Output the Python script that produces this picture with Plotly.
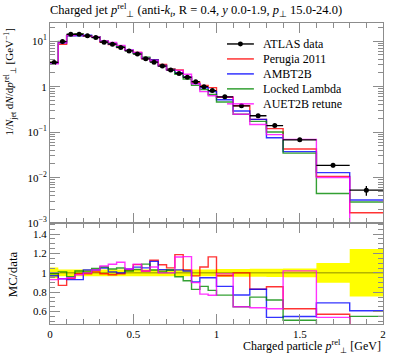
import plotly.graph_objects as go

# ---------------- data ----------------
edges = [0.0, 0.05, 0.1, 0.15, 0.2, 0.25, 0.3, 0.35, 0.4, 0.45, 0.5, 0.55, 0.6, 0.65,
         0.7, 0.75, 0.8, 0.85, 0.9, 0.95, 1.0, 1.1, 1.2, 1.3, 1.4, 1.6, 1.8, 2.0]

atlas = [3.42, 9.8, 14.2, 14.2, 13.1, 12.0, 9.5, 8.6, 7.3, 6.1, 5.2, 4.1, 3.45, 2.84,
         2.32, 1.96, 1.61, 1.29, 1.0, 0.82, 0.60, 0.38, 0.23, 0.14, 0.068, 0.0187, 0.0053]
atlas_err = [0.19, 0.35, 0.5, 0.5, 0.46, 0.42, 0.33, 0.30, 0.26, 0.21, 0.18, 0.14, 0.12, 0.10,
             0.08, 0.07, 0.056, 0.045, 0.035, 0.029, 0.024, 0.015, 0.0095, 0.006, 0.003,
             0.0019, 0.0013]

perugia = [3.42, 8.53, 13.35, 14.06, 12.97, 12.12, 9.41, 8.43, 7.23, 6.28, 5.64, 4.18, 3.90,
           3.08, 2.44, 2.33, 1.66, 1.25, 1.06, 0.955, 0.582, 0.38, 0.191, 0.120, 0.0428,
           0.0107, 0.0017]
ambt2b = [3.32, 9.21, 13.21, 13.21, 13.49, 12.36, 9.98, 8.69, 7.30, 6.34, 5.51, 4.31, 3.86,
          2.93, 2.39, 2.02, 1.64, 1.17, 0.95, 0.779, 0.516, 0.293, 0.191, 0.0756, 0.0374,
          0.0129, 0.00323]
locked = [3.39, 9.90, 13.63, 14.48, 13.23, 12.54, 10.07, 8.94, 7.67, 6.22, 5.38, 4.47, 3.55,
          2.87, 2.39, 1.88, 1.48, 1.07, 0.86, 0.672, 0.462, 0.247, 0.1725, 0.1008, 0.0347,
          0.00449, 0.00292]
auet2b = [3.18, 9.21, 13.49, 13.92, 13.1, 12.36, 10.17, 9.37, 8.10, 6.34, 5.67, 4.18, 3.66,
          2.84, 2.32, 2.28, 1.88, 1.16, 0.78, 0.631, 0.594, 0.247, 0.147, 0.0882, 0.0694,
          0.0101, 0.00001]

series = [("Perugia 2011", perugia, "#ff0000"),
          ("AMBT2B", ambt2b, "#0000ff"),
          ("Locked Lambda", locked, "#008800"),
          ("AUET2B retune", auet2b, "#ff00ff")]

# ---------------- helpers ----------------
centers = [(edges[i] + edges[i + 1]) / 2 for i in range(len(atlas))]
halfw = [(edges[i + 1] - edges[i]) / 2 for i in range(len(atlas))]
step_x = edges[:]


def step_y(vals):
    return list(vals) + [vals[-1]]


FONT = "Liberation Serif"
GRAY = "#8c8c8c"

fig = go.Figure()

# ---------------- top panel ----------------
for name, vals, col in series:
    fig.add_trace(go.Scatter(x=step_x, y=step_y(vals), mode="lines", line_shape="hv",
                             line=dict(color=col, width=1.4), opacity=0.8, name=name,
                             xaxis="x", yaxis="y", showlegend=False))

fig.add_trace(go.Scatter(x=centers, y=atlas, mode="markers",
                         marker=dict(color="black", size=5),
                         error_x=dict(type="data", array=halfw, color="black", thickness=1.3, width=0),
                         error_y=dict(type="data", array=atlas_err, color="black", thickness=1.3, width=0),
                         xaxis="x", yaxis="y", showlegend=False, name="ATLAS data"))

# ---------------- ratio panel ----------------
lo = [1 - e / d for e, d in zip(atlas_err, atlas)]
hi = [1 + e / d for e, d in zip(atlas_err, atlas)]
fig.add_trace(go.Scatter(x=step_x, y=step_y(lo), mode="lines", line_shape="hv",
                         line=dict(width=0, color="#ffff00"), xaxis="x2", yaxis="y2",
                         showlegend=False))
fig.add_trace(go.Scatter(x=step_x, y=step_y(hi), mode="lines", line_shape="hv",
                         line=dict(width=0, color="#ffff00"), fill="tonexty",
                         fillcolor="#ffff00", xaxis="x2", yaxis="y2",
                         showlegend=False))
fig.add_trace(go.Scatter(x=[edges[0], edges[-1]], y=[1, 1], mode="lines",
                         line=dict(color="rgba(0,0,0,0.45)", width=1),
                         xaxis="x2", yaxis="y2", showlegend=False))
for name, vals, col in series:
    r = [v / d for v, d in zip(vals, atlas)]
    fig.add_trace(go.Scatter(x=step_x, y=step_y(r), mode="lines", line_shape="hv",
                             line=dict(color=col, width=1.4), opacity=0.8,
                             xaxis="x2", yaxis="y2", showlegend=False))

# ---------------- axes ----------------
tickfont = dict(family=FONT, size=11, color="black")
common_x = dict(range=[0, 2], showline=True, linecolor=GRAY, linewidth=1, mirror="ticks",
                ticks="inside", tickcolor=GRAY, ticklen=10, tickwidth=1, dtick=0.5, tick0=0,
                showgrid=False, zeroline=False, automargin=False,
                minor=dict(ticks="inside", ticklen=5, dtick=0.1, tickcolor=GRAY, showgrid=False))

fig.update_layout(
    width=397, height=358,
    margin=dict(l=49.5, r=13.5, t=23, b=33.5),
    paper_bgcolor="white", plot_bgcolor="white",
    hovermode=False,
    font=dict(family=FONT, size=11, color="black"),
    xaxis=dict(**common_x, anchor="y", showticklabels=False, domain=[0, 1]),
    xaxis2=dict(**common_x, anchor="y2", matches="x", showticklabels=True,
                tickvals=[0, 0.5, 1, 1.5, 2], ticktext=["0", "0.5", "1", "1.5", "2"],
                tickfont=tickfont),
    yaxis=dict(type="log", range=[-3, 1.4], domain=[0.335, 1], anchor="x", automargin=False,
               showline=True, linecolor=GRAY, mirror="ticks", ticks="inside",
               tickcolor=GRAY, ticklen=10, showgrid=False, zeroline=False,
               tickvals=[0.001, 0.01, 0.1, 1, 10],
               ticktext=["10<sup>\u22123</sup>", "10<sup>\u22122</sup>", "10<sup>\u22121</sup>",
                         "1", "10<sup>1</sup>"],
               tickfont=tickfont,
               minor=dict(ticks="inside", ticklen=5, dtick="D1", tickcolor=GRAY, showgrid=False)),
    yaxis2=dict(range=[0.472, 1.513], domain=[0, 0.335], anchor="x2", automargin=False,
                showline=True, linecolor=GRAY, mirror="ticks", ticks="inside",
                tickcolor=GRAY, ticklen=10, showgrid=False, zeroline=False,
                tickvals=[0.6, 0.8, 1.0, 1.2, 1.4], ticktext=["0.6", "0.8", "1", "1.2", "1.4"],
                tickfont=tickfont,
                minor=dict(ticks="inside", ticklen=5, dtick=0.05, tick0=0, tickcolor=GRAY,
                           showgrid=False)),
)

# ---------------- text ----------------
W, H, L, B = 397 - 49.5 - 13.5, 358 - 23 - 33.5, 49.5, 33.5


def px2paper(px, py):
    return (px - L) / W, (358 - B - py) / H


ann = []
x0, y0 = px2paper(47, 10)
ann.append(dict(x=x0, y=y0, xref="paper", yref="paper", xanchor="left", yanchor="middle",
                showarrow=False, font=dict(family=FONT, size=12.5),
                text="Charged jet <i>p</i><sup>rel</sup><sub>\u22a5</sub> (anti-<i>k</i><sub><i>t</i></sub>, R = 0.4, <i>y</i> 0.0-1.9, <i>p</i><sub>\u22a5</sub> 15.0-24.0)"))
xa, ya = px2paper(9, 82)
ann.append(dict(x=xa, y=ya, xref="paper", yref="paper", xanchor="center", yanchor="middle",
                textangle=-90, showarrow=False, font=dict(family=FONT, size=11),
                text="1/<i>N</i><sub>jet</sub> d<i>N</i>/d<i>p</i><sup>rel</sup><sub>\u22a5</sub> [GeV<sup>\u22121</sup>]"))
xa, ya = px2paper(12, 275)
ann.append(dict(x=xa, y=ya, xref="paper", yref="paper", xanchor="center", yanchor="middle",
                textangle=-90, showarrow=False, font=dict(family=FONT, size=13),
                text="MC/data"))
xa, ya = px2paper(384, 347)
ann.append(dict(x=xa, y=ya, xref="paper", yref="paper", xanchor="right", yanchor="middle",
                showarrow=False, font=dict(family=FONT, size=12),
                text="Charged particle <i>p</i><sup>rel</sup><sub>\u22a5</sub> [GeV]"))

# legend (manual)
legend_rows = [("ATLAS data", "black")] + [(n, c) for n, _, c in series]
shapes = []
for i, (name, col) in enumerate(legend_rows):
    py = 44 + 15 * i
    xl0, yl = px2paper(227, py)
    xl1, _ = px2paper(254, py)
    shapes.append(dict(type="line", xref="paper", yref="paper", x0=xl0, x1=xl1, y0=yl, y1=yl,
                       line=dict(color=col, width=1.4 if i == 0 else 1.2)))
    if i == 0:
        cx0, cy0 = px2paper(238, py - 2.5)
        cx1, cy1 = px2paper(243, py + 2.5)
        shapes.append(dict(type="circle", xref="paper", yref="paper", x0=cx0, x1=cx1,
                           y0=cy1, y1=cy0, fillcolor="black", line=dict(color="black", width=0)))
    xt, yt = px2paper(261, py)
    ann.append(dict(x=xt, y=yt, xref="paper", yref="paper", xanchor="left", yanchor="middle",
                    showarrow=False, font=dict(family=FONT, size=12), text=name))

fig.update_layout(annotations=ann, shapes=shapes)
fig.write_html("out.html", config={"displayModeBar": False, "staticPlot": True},
               post_script="document.body.style.margin='0px';document.body.style.overflow='hidden';")
